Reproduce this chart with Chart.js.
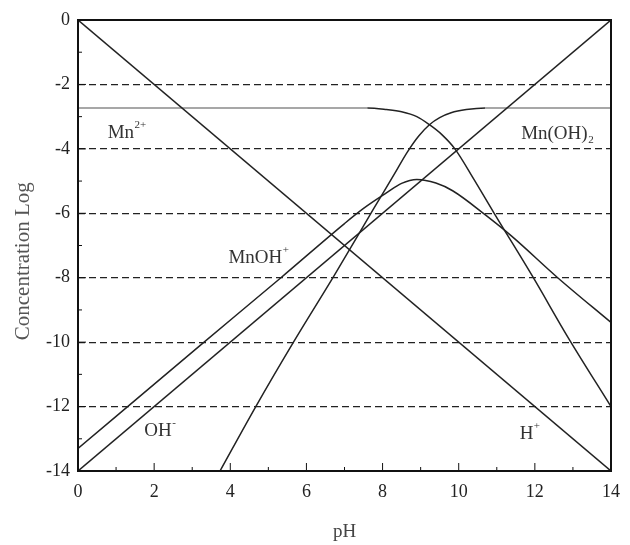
<!DOCTYPE html>
<html>
<head>
<meta charset="utf-8">
<script src="https://cdn.jsdelivr.net/npm/chart.js@4.4.1/dist/chart.umd.min.js"></script>
<style>
  html, body { margin: 0; padding: 0; background: #fff; }
  #wrap { width: 630px; height: 545px; }
</style>
</head>
<body>
<div id="wrap"><canvas id="chart"></canvas></div>
<script>
// Data (pH vs log concentration)
const hPlusPH = [0, 14];
const hPlusLog = [0, -14];

const ohMinusPH = [0, 14];
const ohMinusLog = [-14, 0];

const mn2PH = [0, 7.6, 8.1, 8.5, 8.9, 9.23, 9.55, 9.9, 10.4, 10.92, 11.96, 12.87, 14];
const mn2Log = [-2.73, -2.73, -2.78, -2.85, -3.0, -3.25, -3.55, -4.0, -4.95, -5.98, -8.0, -9.85, -12.0];

const mnohPH = [0, 3.21, 5.33, 7.0, 7.5, 8.1, 8.5, 8.9, 9.4, 9.84, 10.7, 11.39, 12.6, 14];
const mnohLog = [-13.3, -10.1, -8.0, -6.32, -5.85, -5.37, -5.07, -4.95, -5.06, -5.3, -6.05, -6.71, -8.0, -9.39];

const mnoh2PH = [3.73, 4.67, 5.66, 6.72, 7.77, 8.3, 8.65, 8.95, 9.23, 9.5, 9.8, 10.2, 10.7, 14];
const mnoh2Log = [-14, -12, -10, -7.95, -5.85, -4.8, -4.1, -3.6, -3.25, -3.03, -2.88, -2.78, -2.73, -2.73];

// curve labels: main text, raised/lowered part, position in data units
const curveLabels = [
    { text: 'Mn', small: '2+', x: 0.78, y: -3.65, up: true },
    { text: 'Mn(OH)', small: '2', x: 11.64, y: -3.7, up: false },
    { text: 'MnOH', small: '+', x: 3.95, y: -7.55, up: true },
    { text: 'OH', small: '-', x: 1.74, y: -12.9, up: true },
    { text: 'H', small: '+', x: 11.6, y: -13.0, up: true }
];

const SERIF = "'Liberation Serif', 'DejaVu Serif', serif";
const LINE = '#222';

function toPoints(xs, ys) {
    return xs.map((x, i) => ({ x: x, y: ys[i] }));
}

// flat parts of the Mn curves look lighter in the figure
function flatGray(ctx) {
    return ctx.p0.parsed.y === ctx.p1.parsed.y ? '#8a8a8a' : undefined;
}

function curve(label, xs, ys) {
    return {
        label: label,
        data: toPoints(xs, ys),
        borderColor: LINE,
        borderWidth: 1.5,
        pointRadius: 0,
        fill: false,
        cubicInterpolationMode: 'monotone',
        segment: { borderColor: flatGray }
    };
}

// frame, inward ticks and curve labels
const decorPlugin = {
    id: 'decor',
    afterDraw(chart) {
        const { ctx, chartArea: a, scales } = chart;
        const xs = scales.x, ys = scales.y;
        ctx.save();
        ctx.strokeStyle = '#111';
        ctx.lineWidth = 1;
        ctx.beginPath();
        for (let v = 0; v <= 14; v++) {
            const px = xs.getPixelForValue(v);
            const len = v % 2 === 0 ? 8 : 4;
            ctx.moveTo(px, a.bottom);
            ctx.lineTo(px, a.bottom - len);
        }
        for (let v = -14; v <= 0; v++) {
            const py = ys.getPixelForValue(v);
            const len = v % 2 === 0 ? 8 : 4;
            ctx.moveTo(a.left, py);
            ctx.lineTo(a.left + len, py);
        }
        ctx.stroke();

        ctx.lineWidth = 2;
        ctx.strokeRect(a.left, a.top, a.right - a.left, a.bottom - a.top);

        ctx.fillStyle = '#333';
        ctx.textBaseline = 'alphabetic';
        ctx.textAlign = 'left';
        curveLabels.forEach(l => {
            const px = xs.getPixelForValue(l.x);
            const py = ys.getPixelForValue(l.y);
            ctx.font = '19px ' + SERIF;
            ctx.fillText(l.text, px, py);
            const w = ctx.measureText(l.text).width;
            ctx.font = '11px ' + SERIF;
            ctx.fillText(l.small, px + w + 0.5, l.up ? py - 10 : py + 4);
        });
        ctx.restore();
    }
};

const chart = new Chart(document.getElementById('chart'), {
    type: 'line',
    data: {
        datasets: [
            curve('H+', hPlusPH, hPlusLog),
            curve('OH-', ohMinusPH, ohMinusLog),
            curve('Mn2+', mn2PH, mn2Log),
            curve('MnOH+', mnohPH, mnohLog),
            curve('Mn(OH)2', mnoh2PH, mnoh2Log)
        ]
    },
    options: {
        responsive: true,
        maintainAspectRatio: false,
        animation: false,
        layout: { padding: { left: 0, right: 13, top: 20, bottom: 0 } },
        plugins: {
            legend: { display: false },
            tooltip: { enabled: false }
        },
        scales: {
            x: {
                type: 'linear',
                min: 0,
                max: 14,
                ticks: {
                    stepSize: 2,
                    padding: 10,
                    color: '#222',
                    font: { family: SERIF, size: 18 }
                },
                grid: { drawOnChartArea: false, drawTicks: false },
                border: { display: false },
                title: {
                    display: true,
                    text: 'pH',
                    color: '#444',
                    padding: { top: 0, bottom: 2 },
                    font: { family: SERIF, size: 19 }
                },
                afterFit(scale) { scale.height = 74; }
            },
            y: {
                min: -14,
                max: 0,
                ticks: {
                    stepSize: 2,
                    padding: 8,
                    color: '#222',
                    font: { family: SERIF, size: 18 }
                },
                grid: {
                    drawTicks: false,
                    lineWidth: 1.2,
                    color: c => (c.tick && (c.tick.value === 0 || c.tick.value === -14)) ? 'rgba(0,0,0,0)' : '#222'
                },
                border: { display: false, dash: [7, 4] },
                title: {
                    display: true,
                    // trailing spaces push the text a little below the axis centre, as in the figure
                    text: 'Concentration Log      ',
                    color: '#555',
                    padding: { top: 11, bottom: 0 },
                    font: { family: SERIF, size: 21 }
                },
                afterFit(scale) { scale.width = 78; }
            }
        }
    },
    plugins: [decorPlugin]
});
</script>
</body>
</html>
